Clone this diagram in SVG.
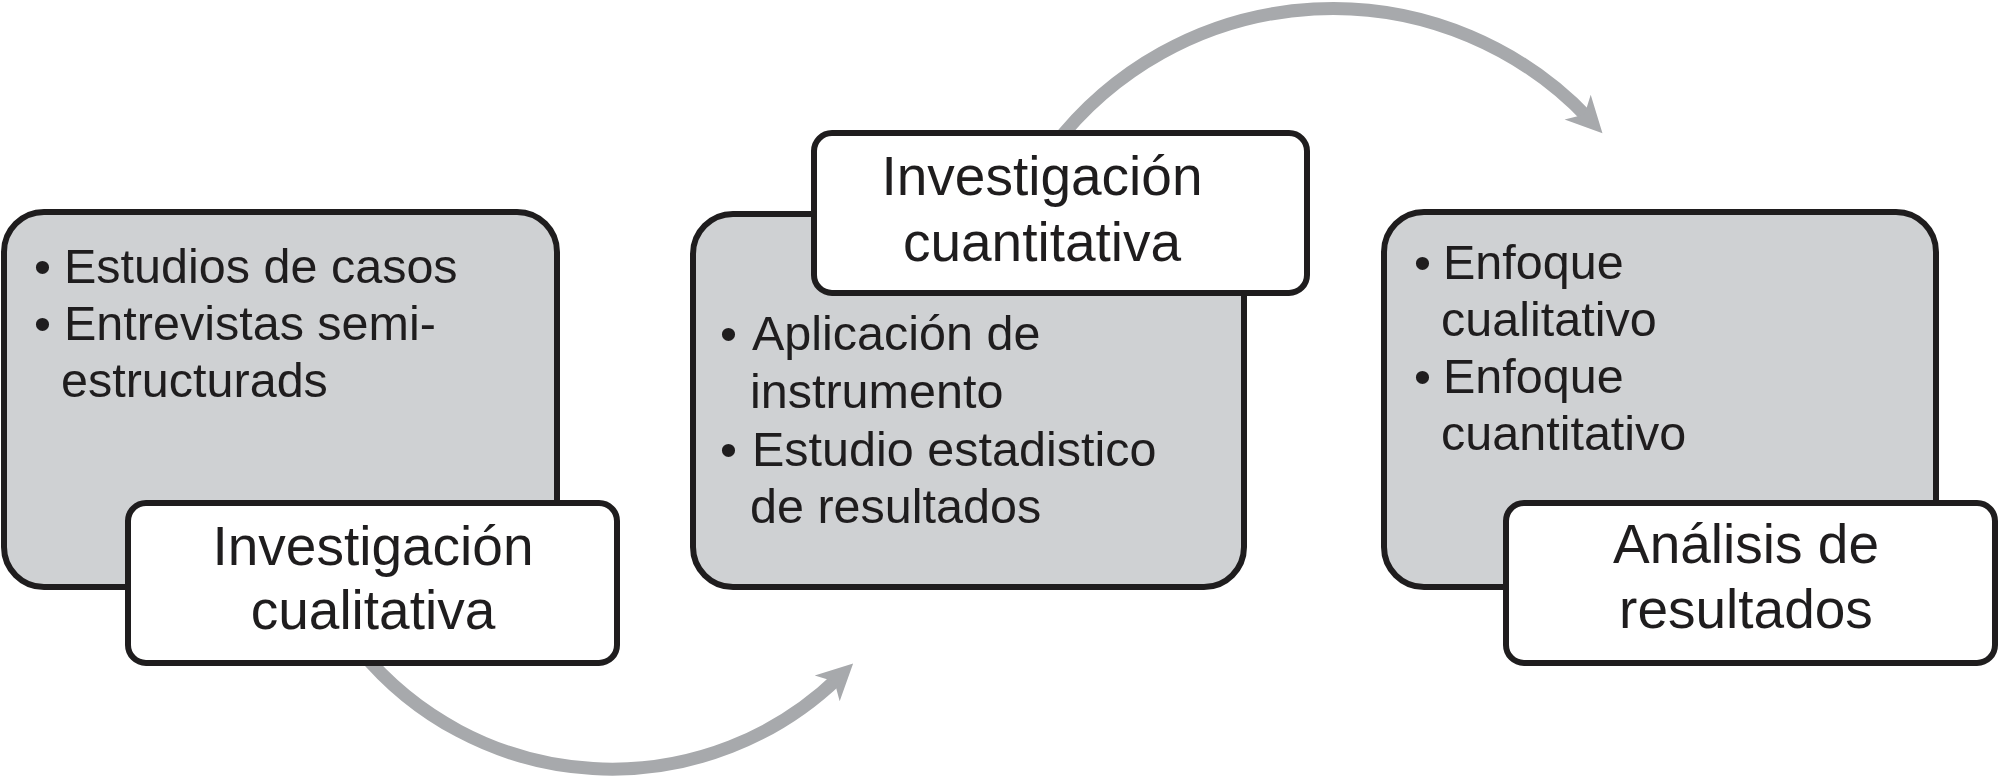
<svg xmlns="http://www.w3.org/2000/svg" width="2000" height="783" viewBox="0 0 2000 783">
<defs>
<style>
.gray{fill:#cfd1d3;stroke:#1f1d1e;stroke-width:6}
.white{fill:#ffffff;stroke:#1f1d1e;stroke-width:6}
.txt{font-family:"Liberation Sans",Arial,Helvetica,sans-serif;fill:#1f1d1e}
.b{font-size:48.5px}
.t{font-size:55px;text-anchor:middle}
.arc{fill:none;stroke:#a7a9ac;stroke-width:13}
</style>
<marker id="head" markerUnits="userSpaceOnUse" markerWidth="60" markerHeight="60" viewBox="-30 -30 60 60" refX="0" refY="0" orient="auto">
<path d="M21,0 L-15,-18 L-5,0 L-15,18 Z" fill="#a7a9ac"/>
</marker>
</defs>
<rect width="2000" height="783" fill="#ffffff"/>
<g id="connectors">
<path class="arc" d="M360,650 A326,326 0 0 0 838,678" marker-end="url(#head)"/>
<path class="arc" d="M1053,147 A352,352 0 0 1 1588,118" marker-end="url(#head)"/>
</g>
<g id="node-cualitativa">
<rect class="gray" x="4" y="212" width="553" height="375" rx="40"/>
<text class="txt b" x="34" y="283">•</text>
<text class="txt b" x="64" y="283">Estudios de casos</text>
<text class="txt b" x="34" y="340">•</text>
<text class="txt b" x="64" y="340">Entrevistas semi-</text>
<text class="txt b" x="61" y="397">estructurads</text>
<rect class="white" x="128" y="503" width="489" height="160" rx="18"/>
<text class="txt t" x="373" y="565">Investigación</text>
<text class="txt t" x="373" y="629">cualitativa</text>
</g>
<g id="node-cuantitativa">
<rect class="gray" x="693" y="214" width="551" height="373" rx="40"/>
<text class="txt b" x="720" y="350">•</text>
<text class="txt b" x="752" y="350">Aplicación de</text>
<text class="txt b" x="750" y="408">instrumento</text>
<text class="txt b" x="720" y="466">•</text>
<text class="txt b" x="752" y="466">Estudio estadistico</text>
<text class="txt b" x="750" y="523">de resultados</text>
<rect class="white" x="814" y="133" width="493" height="160" rx="18"/>
<text class="txt t" x="1042" y="195">Investigación</text>
<text class="txt t" x="1042" y="261">cuantitativa</text>
</g>
<g id="node-analisis">
<rect class="gray" x="1384" y="212" width="552" height="375" rx="40"/>
<text class="txt b" x="1414" y="279">•</text>
<text class="txt b" x="1443" y="279">Enfoque</text>
<text class="txt b" x="1441" y="336">cualitativo</text>
<text class="txt b" x="1414" y="393">•</text>
<text class="txt b" x="1443" y="393">Enfoque</text>
<text class="txt b" x="1441" y="450">cuantitativo</text>
<rect class="white" x="1506" y="503" width="489" height="160" rx="18"/>
<text class="txt t" x="1746" y="563">Análisis de</text>
<text class="txt t" x="1746" y="628">resultados</text>
</g>
</svg>
